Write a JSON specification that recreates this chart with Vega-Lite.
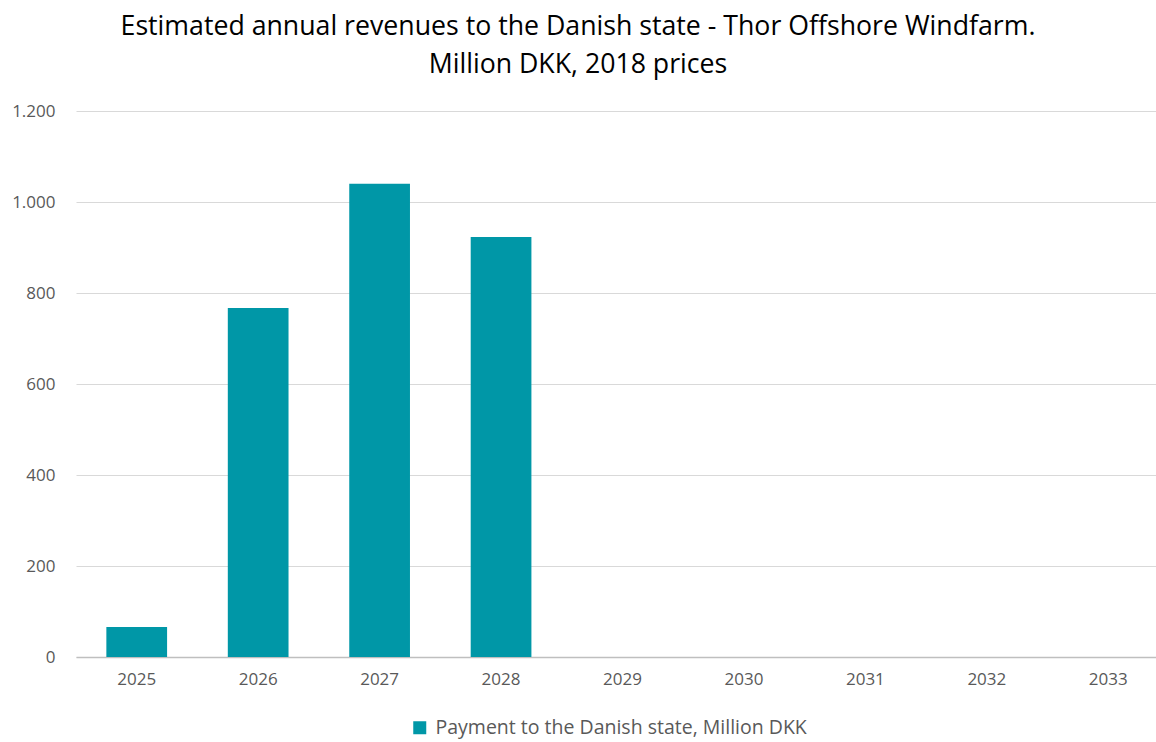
{
  "$schema": "https://vega.github.io/schema/vega-lite/v6.json",
  "width": 1064,
  "height": 546,
  "autosize": {"type": "none"},
  "padding": {"left": 76, "top": 111, "right": 16, "bottom": 85},
  "background": "white",
  "title": {
    "text": ["Estimated annual revenues to the Danish state - Thor Offshore Windfarm.", "Million DKK, 2018 prices"],
    "font": "Open Sans",
    "fontSize": 26.7,
    "fontWeight": "normal",
    "color": "#000000",
    "lineHeight": 38,
    "anchor": "middle",
    "dx": -30,
    "offset": 23
  },
  "data": {
    "values": [
      {"year": "2025", "value": 66, "series": "Payment to the Danish state, Million DKK"},
      {"year": "2026", "value": 767, "series": "Payment to the Danish state, Million DKK"},
      {"year": "2027", "value": 1040, "series": "Payment to the Danish state, Million DKK"},
      {"year": "2028", "value": 923, "series": "Payment to the Danish state, Million DKK"},
      {"year": "2029", "value": 0, "series": "Payment to the Danish state, Million DKK"},
      {"year": "2030", "value": 0, "series": "Payment to the Danish state, Million DKK"},
      {"year": "2031", "value": 0, "series": "Payment to the Danish state, Million DKK"},
      {"year": "2032", "value": 0, "series": "Payment to the Danish state, Million DKK"},
      {"year": "2033", "value": 0, "series": "Payment to the Danish state, Million DKK"}
    ]
  },
  "mark": {"type": "bar"},
  "encoding": {
    "x": {
      "field": "year",
      "type": "ordinal",
      "scale": {"paddingInner": 0.5, "paddingOuter": 0.25, "range": [0, 1093]},
      "axis": {
        "title": null,
        "labelAngle": 0,
        "ticks": false,
        "domainColor": "#bfbfbf",
        "domainWidth": 1.5,
        "labelFont": "Open Sans",
        "labelFontSize": 17,
        "labelColor": "#595959",
        "labelPadding": 14
      }
    },
    "y": {
      "field": "value",
      "type": "quantitative",
      "scale": {"domain": [0, 1200]},
      "axis": {
        "title": null,
        "values": [0, 200, 400, 600, 800, 1000, 1200],
        "labelExpr": "replace(format(datum.value, ','), ',', '.')",
        "ticks": false,
        "domain": false,
        "gridColor": "#d9d9d9",
        "gridWidth": 1,
        "labelFont": "Open Sans",
        "labelFontSize": 17,
        "labelColor": "#595959",
        "labelPadding": 21
      }
    },
    "color": {
      "field": "series",
      "type": "nominal",
      "scale": {"range": ["#0097a7"]},
      "legend": {
        "title": null,
        "orient": "bottom",
        "direction": "horizontal",
        "symbolType": "square",
        "symbolSize": 169,
        "symbolStrokeWidth": 0,
        "labelFont": "Open Sans",
        "labelFontSize": 19.5,
        "labelColor": "#595959",
        "labelLimit": 0,
        "labelOffset": 6,
        "offset": 31
      }
    }
  },
  "config": {
    "view": {"stroke": null},
    "legend": {"layout": {"bottom": {"anchor": "middle"}}}
  }
}
